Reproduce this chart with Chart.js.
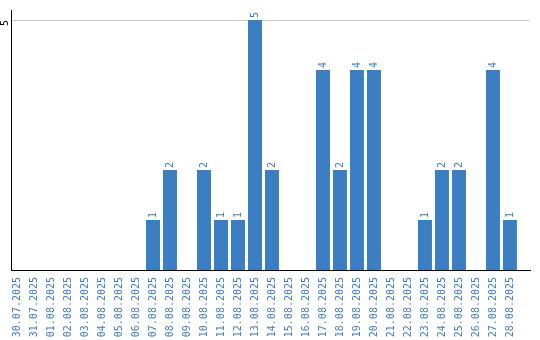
<!DOCTYPE html>
<html>
<head>
<meta charset="utf-8">
<script src="https://cdn.jsdelivr.net/npm/chart.js@4.4.1/dist/chart.umd.min.js"></script>
<style>
    html, body { margin: 0; padding: 0; background: #fff; }
    canvas { display: block; }
</style>
</head>
<body>
<canvas id="chart" width="540" height="340"></canvas>
<script>
// Dates shown on the x axis
const dates = [
    '30.07.2025', '31.07.2025', '01.08.2025', '02.08.2025', '03.08.2025',
    '04.08.2025', '05.08.2025', '06.08.2025', '07.08.2025', '08.08.2025',
    '09.08.2025', '10.08.2025', '11.08.2025', '12.08.2025', '13.08.2025',
    '14.08.2025', '15.08.2025', '16.08.2025', '17.08.2025', '18.08.2025',
    '19.08.2025', '20.08.2025', '21.08.2025', '22.08.2025', '23.08.2025',
    '24.08.2025', '25.08.2025', '26.08.2025', '27.08.2025', '28.08.2025'
];

// Count per day
const counts = [
    0, 0, 0, 0, 0, 0, 0, 0, 1, 2,
    0, 2, 1, 1, 5, 2, 0, 0, 4, 2,
    4, 4, 0, 0, 1, 2, 2, 0, 4, 1
];

// Y axis ticks that carry a label / grid line
const yTicks = [5];

const BAR_COLOR = '#3b7ec2';
const LABEL_COLOR = '#3d7cc4';
const FONT = "'DejaVu Sans Mono', 'Liberation Mono', monospace";

Chart.defaults.font.family = FONT;
Chart.defaults.font.size = 10;

// Rotated value labels above each bar
const valueLabels = {
    id: 'valueLabels',
    afterDatasetsDraw(chart) {
        const ctx = chart.ctx;
        const meta = chart.getDatasetMeta(0);
        ctx.save();
        ctx.fillStyle = LABEL_COLOR;
        ctx.font = '10px ' + FONT;
        ctx.textAlign = 'left';
        ctx.textBaseline = 'middle';
        meta.data.forEach((bar, i) => {
            if (!counts[i]) return;
            ctx.save();
            ctx.translate(bar.x, bar.y - 2);
            ctx.rotate(-Math.PI / 2);
            ctx.fillText(String(counts[i]), 0, 0);
            ctx.restore();
        });
        ctx.restore();
    }
};

new Chart(document.getElementById('chart'), {
    type: 'bar',
    data: {
        datasets: [{
            data: counts.map((v, i) => ({ x: i, y: v })),
            backgroundColor: BAR_COLOR,
            borderWidth: 0,
            barPercentage: 0.824,
            categoryPercentage: 1
        }]
    },
    options: {
        responsive: false,
        animation: false,
        layout: { padding: { top: 10, right: 10, left: 0, bottom: 0 } },
        plugins: {
            legend: { display: false },
            tooltip: { enabled: false }
        },
        scales: {
            x: {
                type: 'linear',
                offset: false,
                min: -0.353,
                max: 30.18,
                grid: { display: false, drawTicks: false },
                border: { display: true, color: '#000', width: 1 },
                afterBuildTicks: (scale) => {
                    scale.ticks = dates.map((d, i) => ({ value: i }));
                },
                afterFit: (scale) => {
                    scale.height = 70;
                    scale.paddingLeft = 0;
                    scale.paddingRight = 0;
                },
                ticks: {
                    autoSkip: false,
                    minRotation: 90,
                    maxRotation: 90,
                    padding: 7,
                    color: LABEL_COLOR,
                    callback: (v) => dates[v]
                }
            },
            y: {
                min: 0,
                max: 5.2,
                grid: { color: '#cccccc', drawTicks: false },
                border: { display: true, color: '#000', width: 1 },
                afterBuildTicks: (scale) => {
                    scale.ticks = yTicks.map(v => ({ value: v }));
                },
                afterFit: (scale) => {
                    scale.width = 11;
                    scale.paddingTop = 0;
                    scale.paddingBottom = 0;
                },
                ticks: {
                    minRotation: 90,
                    maxRotation: 90,
                    padding: 6,
                    color: '#000'
                }
            }
        }
    },
    plugins: [valueLabels]
});
</script>
</body>
</html>
